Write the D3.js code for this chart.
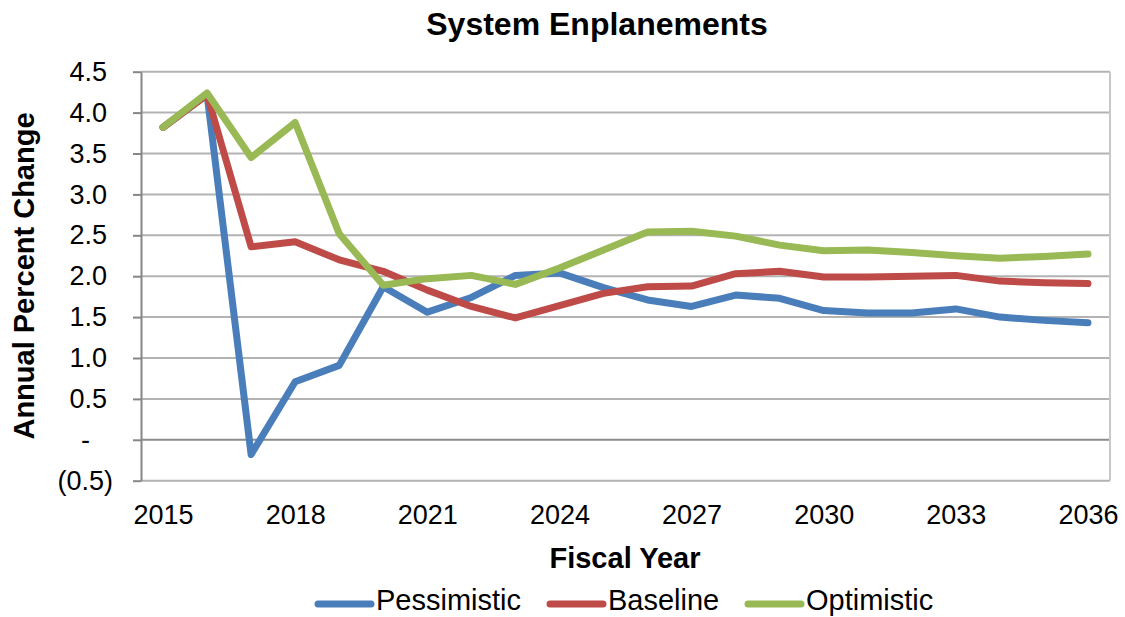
<!DOCTYPE html>
<html>
<head>
<meta charset="utf-8">
<script src="https://cdn.jsdelivr.net/npm/d3@7/dist/d3.min.js"></script>
<style>
  body { margin: 0; background: #fff; }
  text { font-family: "Liberation Sans", Arial, sans-serif; fill: #000; }
</style>
</head>
<body>
<script>
// Data
var years = [2015, 2016, 2017, 2018, 2019, 2020, 2021, 2022, 2023, 2024, 2025,
             2026, 2027, 2028, 2029, 2030, 2031, 2032, 2033, 2034, 2035, 2036];
var pessimistic = [3.82, 4.22, -0.18, 0.71, 0.91, 1.87, 1.56, 1.74, 2.01, 2.04, 1.86,
                   1.71, 1.63, 1.77, 1.73, 1.58, 1.55, 1.55, 1.60, 1.50, 1.46, 1.43];
var baseline = [3.82, 4.22, 2.36, 2.42, 2.20, 2.06, 1.83, 1.63, 1.49, 1.64, 1.79,
                1.87, 1.88, 2.03, 2.06, 1.99, 1.99, 2.00, 2.01, 1.94, 1.92, 1.91];
var optimistic = [3.82, 4.24, 3.45, 3.88, 2.52, 1.89, 1.97, 2.01, 1.90, 2.10, 2.32,
                  2.54, 2.55, 2.49, 2.38, 2.31, 2.32, 2.29, 2.25, 2.22, 2.24, 2.27];
var seriesNames = ["Pessimistic", "Baseline", "Optimistic"];
var xTickYears = [2015, 2018, 2021, 2024, 2027, 2030, 2033, 2036];
var yTicks = [-0.5, 0, 0.5, 1.0, 1.5, 2.0, 2.5, 3.0, 3.5, 4.0, 4.5];
var yTickLabels = ["(0.5)", "-", "0.5", "1.0", "1.5", "2.0", "2.5", "3.0", "3.5", "4.0", "4.5"];

var colors = ["#4a7ebb", "#be4b48", "#98b954"];

//Width and height
var w = 1125;
var h = 617;
var plotLeft = 141, plotRight = 1110, plotTop = 71.7, plotBottom = 480.7;

var svg = d3.select("body")
            .append("svg")
            .attr("width", w)
            .attr("height", h);

var x = d3.scalePoint()
          .domain(years)
          .range([plotLeft, plotRight])
          .padding(0.5);

var y = d3.scaleLinear()
          .domain([-0.5, 4.5])
          .range([plotBottom, plotTop]);

// gridlines
svg.selectAll("line.grid")
   .data(yTicks)
   .enter()
   .append("line")
   .attr("class", "grid")
   .attr("x1", plotLeft)
   .attr("x2", plotRight)
   .attr("y1", function(d) { return y(d); })
   .attr("y2", function(d) { return y(d); })
   .attr("stroke", function(d) { return d === 0 ? "#8c8c8c" : "#b3b3b3"; })
   .attr("stroke-width", 2);

// right border of plot area
svg.append("line")
   .attr("x1", plotRight).attr("x2", plotRight)
   .attr("y1", plotTop).attr("y2", plotBottom)
   .attr("stroke", "#c8c8c8")
   .attr("stroke-width", 2);

// y axis
var yAxis = d3.axisLeft(y)
              .tickValues(yTicks)
              .tickSize(8)
              .tickSizeOuter(0)
              .tickFormat(function(d, i) { return yTickLabels[i]; });

var gy = svg.append("g")
            .attr("transform", "translate(" + plotLeft + ",0)")
            .call(yAxis);
gy.select(".domain").attr("stroke", "#868686").attr("stroke-width", 2);
gy.selectAll(".tick line").attr("stroke", "#868686").attr("stroke-width", 2);
gy.selectAll(".tick text")
  .attr("font-size", 27)
  .attr("font-family", "Liberation Sans, Arial, sans-serif")
  .attr("fill", "#000")
  .attr("x", function(d) {
    if (d < 0) return -28;
    if (d === 0) return -51;
    return -34;
  });

// x axis (labels only)
var xAxis = d3.axisBottom(x)
              .tickValues(xTickYears)
              .tickSize(0)
              .tickPadding(0);

var gx = svg.append("g")
            .attr("transform", "translate(0," + plotBottom + ")")
            .call(xAxis);
gx.select(".domain").remove();
gx.selectAll(".tick text")
  .attr("font-size", 27)
  .attr("font-family", "Liberation Sans, Arial, sans-serif")
  .attr("fill", "#000")
  .attr("dy", null)
  .attr("y", 43);

// lines
var line = d3.line()
             .x(function(d, i) { return x(years[i]); })
             .y(function(d) { return y(d); });

var allSeries = [pessimistic, baseline, optimistic];

svg.selectAll("path.series")
   .data(allSeries)
   .enter()
   .append("path")
   .attr("class", "series")
   .attr("d", line)
   .attr("fill", "none")
   .attr("stroke", function(d, i) { return colors[i]; })
   .attr("stroke-width", 7)
   .attr("stroke-linejoin", "round")
   .attr("stroke-linecap", "round");

// titles
svg.append("text")
   .attr("x", 597)
   .attr("y", 35)
   .attr("text-anchor", "middle")
   .attr("font-size", 32)
   .attr("font-weight", "bold")
   .text("System Enplanements");

svg.append("text")
   .attr("x", 625)
   .attr("y", 568)
   .attr("text-anchor", "middle")
   .attr("font-size", 29)
   .attr("font-weight", "bold")
   .text("Fiscal Year");

svg.append("text")
   .attr("transform", "translate(34,276) rotate(-90)")
   .attr("text-anchor", "middle")
   .attr("font-size", 29)
   .attr("font-weight", "bold")
   .text("Annual Percent Change");

// legend
var legendX = [318, 550, 748];
var legend = svg.selectAll("g.legend")
                .data(seriesNames)
                .enter()
                .append("g")
                .attr("class", "legend")
                .attr("transform", function(d, i) { return "translate(" + legendX[i] + ",604)"; });

legend.append("line")
      .attr("x1", 0)
      .attr("x2", 53)
      .attr("stroke", function(d, i) { return colors[i]; })
      .attr("stroke-width", 7)
      .attr("stroke-linecap", "round");

legend.append("text")
      .attr("x", 58)
      .attr("y", 6)
      .attr("font-size", 29)
      .text(function(d) { return d; });
</script>
</body>
</html>
